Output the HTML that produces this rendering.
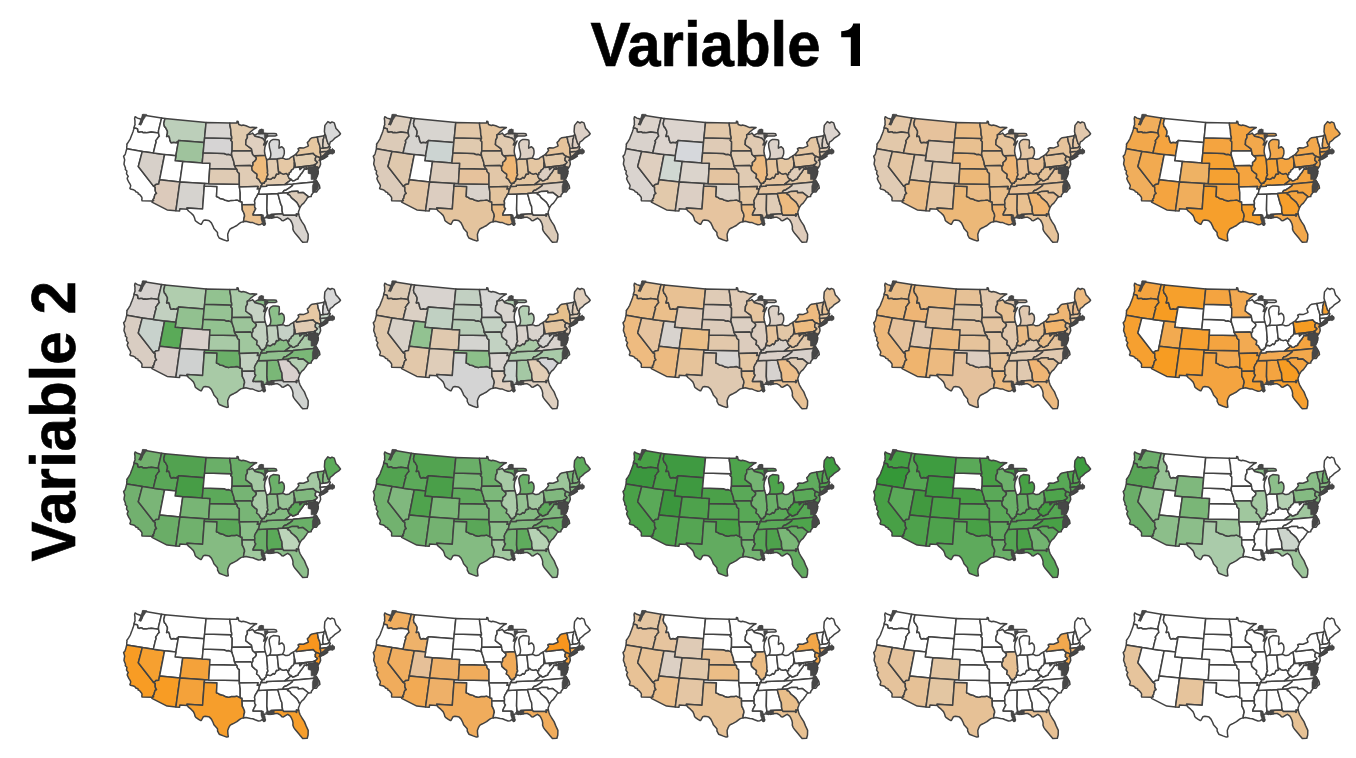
<!DOCTYPE html>
<html><head><meta charset="utf-8"><style>
html,body{margin:0;padding:0;background:#fff;width:1356px;height:758px;overflow:hidden;position:relative}
.t{position:absolute;font-family:"Liberation Sans",sans-serif;font-weight:bold;color:#000;white-space:nowrap;line-height:1;font-size:60px;-webkit-text-stroke:0.6px #000;transform-origin:0 0}
#t1{left:590.5px;top:13px;transform:scaleY(1.055)}
#t1b{left:836px;top:12px;transform:scaleY(1.03)}
#t2{left:0;top:0;transform:translate(22px,561.5px) rotate(-90deg) scaleY(1.055)}
#t2b{left:0;top:0;transform:translate(22px,314.5px) rotate(-90deg) scaleY(1.055)}
</style></head><body>
<svg width="1356" height="758" viewBox="0 0 1356 758" style="position:absolute;left:0;top:0"><defs><path id="WA" d="M142.5,114.9 L161.6,118.1 L158.5,130.9 L158.5,133.0 L151.2,132.0 L149.8,132.2 L148.5,132.4 L146.6,132.7 L144.8,132.6 L143.0,132.7 L142.0,131.9 L140.5,131.9 L139.0,132.2 L137.8,131.7 L137.7,130.4 L137.5,129.0 L136.1,128.3 L134.6,128.1 L134.1,127.7 L134.0,127.4 L134.5,125.9 L135.1,124.5 L134.9,123.4 L135.0,120.8 L134.6,118.6 L135.1,116.7 L137.5,118.1 L139.7,118.8 L141.2,119.4 L141.2,120.9 L140.1,122.8 L139.1,124.4 L141.0,123.5 L141.8,122.1 L142.5,120.1 L142.5,118.3 L143.0,116.3Z"/><path id="OR" d="M158.5,133.0 L151.2,132.0 L149.8,132.2 L148.5,132.4 L146.6,132.7 L144.8,132.6 L143.0,132.7 L142.0,131.9 L140.5,131.9 L139.0,132.2 L137.8,131.7 L137.7,130.4 L137.5,129.0 L136.1,128.3 L134.6,128.1 L134.1,127.7 L133.7,129.4 L133.1,131.4 L132.1,134.1 L131.4,135.7 L130.3,138.8 L129.8,139.7 L128.6,141.6 L128.0,142.5 L126.8,144.2 L127.0,145.0 L126.7,147.1 L126.8,148.7 L142.3,151.4 L153.4,153.0 L155.5,144.0 L156.0,142.9 L156.2,141.8 L155.6,140.9 L157.2,138.9 L157.5,138.2 L158.3,137.2 L159.4,136.0 L159.1,135.2Z"/><path id="CA" d="M126.8,148.7 L142.3,151.4 L138.3,166.5 L153.5,186.1 L155.2,187.1 L155.2,190.4 L155.6,191.8 L156.6,193.4 L155.1,194.3 L154.3,196.8 L154.1,198.3 L153.0,199.5 L153.7,200.6 L152.5,201.1 L142.1,200.8 L141.8,199.8 L142.0,198.3 L141.8,197.2 L140.7,195.8 L139.4,194.2 L138.2,193.9 L138.0,192.6 L135.8,191.8 L135.1,190.7 L133.6,189.8 L130.5,189.1 L129.9,188.3 L130.5,186.7 L130.7,185.5 L130.1,184.2 L128.8,182.2 L127.2,178.8 L127.6,177.3 L128.3,176.4 L127.6,175.4 L126.5,173.9 L126.9,171.0 L125.3,169.5 L125.5,168.0 L124.0,164.3 L124.2,162.4 L124.7,159.9 L123.6,156.3 L125.0,154.7 L125.5,153.4 L126.4,149.9Z"/><path id="NV" d="M142.3,151.4 L153.4,153.0 L164.6,154.5 L159.6,179.8 L158.7,184.1 L157.3,184.2 L155.8,184.4 L155.2,185.2 L154.2,185.6 L153.5,186.1 L138.3,166.5Z"/><path id="ID" d="M161.6,118.1 L164.9,118.6 L163.8,123.6 L164.4,126.4 L165.6,127.6 L166.5,129.3 L167.4,131.0 L167.4,133.2 L166.6,136.4 L168.7,135.9 L169.6,138.1 L169.8,139.9 L170.9,142.6 L171.6,142.8 L173.6,142.3 L176.5,142.7 L177.1,141.7 L178.1,143.1 L175.9,155.7 L164.6,154.5 L153.4,153.0 L155.5,144.0 L156.0,142.9 L156.2,141.8 L155.6,140.9 L157.2,138.9 L157.5,138.2 L158.3,137.2 L159.4,136.0 L159.1,135.2 L158.5,133.0 L158.5,130.9Z"/><path id="MT" d="M164.9,118.6 L206.1,122.4 L204.6,137.8 L204.1,142.6 L178.5,140.6 L178.1,143.1 L177.1,141.7 L176.5,142.7 L173.6,142.3 L171.6,142.8 L170.9,142.6 L169.8,139.9 L169.6,138.1 L168.7,135.9 L166.6,136.4 L167.4,133.2 L167.4,131.0 L166.5,129.3 L165.6,127.6 L164.4,126.4 L163.8,123.6Z"/><path id="WY" d="M178.1,143.1 L178.5,140.6 L204.1,142.6 L203.2,152.7 L202.2,162.9 L182.8,161.5 L175.1,160.8 L175.9,155.7Z"/><path id="UT" d="M164.6,154.5 L175.9,155.7 L175.1,160.8 L182.8,161.5 L179.9,181.9 L159.6,179.8Z"/><path id="CO" d="M182.8,161.5 L202.2,162.9 L210.0,163.3 L209.7,168.4 L208.7,183.7 L204.7,183.5 L179.9,181.9Z"/><path id="AZ" d="M159.6,179.8 L179.9,181.9 L175.9,210.7 L167.1,209.9 L151.9,202.2 L152.5,201.1 L153.7,200.6 L153.0,199.5 L154.1,198.3 L154.3,196.8 L155.1,194.3 L156.6,193.4 L155.6,191.8 L155.2,190.4 L155.2,187.1 L153.5,186.1 L154.2,185.6 L155.2,185.2 L155.8,184.4 L157.3,184.2 L158.7,184.1Z"/><path id="NM" d="M179.9,181.9 L204.7,183.5 L204.3,186.1 L202.6,209.0 L187.0,208.1 L187.2,209.2 L179.9,208.7 L179.6,211.0 L175.9,210.7Z"/><path id="TX" d="M187.2,209.2 L187.0,208.1 L202.6,209.0 L204.3,186.1 L217.0,186.6 L216.5,196.5 L218.6,197.4 L219.9,198.4 L222.9,199.0 L225.4,200.3 L228.6,201.1 L231.0,200.4 L234.9,200.3 L237.0,199.9 L240.2,201.5 L242.1,202.0 L242.1,204.7 L242.3,209.9 L243.4,212.0 L244.3,214.0 L244.6,216.0 L243.9,218.6 L243.5,221.7 L240.9,222.4 L239.1,223.7 L236.9,225.5 L233.7,227.2 L231.9,228.0 L230.0,229.2 L228.9,231.1 L227.7,234.3 L227.9,237.8 L228.3,240.5 L226.7,240.9 L223.4,239.7 L219.2,238.0 L217.6,235.0 L217.5,232.5 L213.9,228.6 L213.1,226.3 L211.4,222.9 L209.2,220.7 L208.5,220.5 L205.2,220.0 L203.4,220.5 L201.3,224.3 L200.4,224.2 L198.6,223.1 L195.8,221.1 L195.2,220.4 L194.5,217.8 L193.4,215.4 L191.0,213.0 L188.5,211.0Z"/><path id="OK" d="M204.7,183.5 L208.7,183.7 L239.3,184.3 L239.4,186.9 L240.2,192.5 L240.2,201.5 L237.0,199.9 L234.9,200.3 L231.0,200.4 L228.6,201.1 L225.4,200.3 L222.9,199.0 L219.9,198.4 L218.6,197.4 L216.5,196.5 L217.0,186.6 L204.3,186.1Z"/><path id="KS" d="M209.7,168.4 L236.4,168.9 L237.2,169.7 L237.2,171.2 L238.0,172.4 L239.3,173.4 L239.3,184.3 L208.7,183.7Z"/><path id="NE" d="M203.2,152.7 L224.2,153.5 L226.5,154.5 L228.4,154.3 L230.2,154.9 L231.1,155.3 L232.0,156.1 L232.4,157.6 L233.5,160.7 L234.0,162.4 L234.2,164.3 L234.6,165.8 L235.4,167.4 L236.4,168.9 L209.7,168.4 L210.0,163.3 L202.2,162.9Z"/><path id="SD" d="M204.6,137.8 L231.8,138.6 L230.8,140.3 L232.2,141.8 L232.1,151.0 L231.5,153.5 L232.0,156.1 L231.1,155.3 L230.2,154.9 L228.4,154.3 L226.5,154.5 L224.2,153.5 L203.2,152.7 L204.1,142.6Z"/><path id="ND" d="M206.1,122.4 L229.8,123.1 L230.0,125.6 L230.8,129.7 L231.0,133.2 L231.1,135.1 L231.7,136.7 L231.8,138.6 L204.6,137.8Z"/><path id="MN" d="M229.8,123.1 L237.0,123.1 L237.0,121.2 L238.1,121.5 L238.8,124.5 L241.7,125.5 L243.1,125.0 L246.0,125.7 L250.3,127.6 L252.4,127.3 L256.7,127.6 L254.1,129.0 L250.1,132.2 L248.0,134.4 L247.3,134.7 L247.4,137.7 L246.0,140.2 L245.9,142.7 L245.7,144.5 L247.6,146.0 L249.2,147.2 L251.5,148.9 L251.9,150.7 L232.1,151.0 L232.2,141.8 L230.8,140.3 L231.8,138.6 L231.7,136.7 L231.1,135.1 L231.0,133.2 L230.8,129.7 L230.0,125.6Z"/><path id="IA" d="M232.1,151.0 L251.9,150.7 L252.2,152.5 L252.7,154.5 L254.3,155.8 L256.3,157.7 L256.2,159.3 L255.1,160.8 L253.0,162.5 L253.0,165.0 L251.8,166.8 L250.5,165.6 L234.6,165.8 L234.2,164.3 L234.0,162.4 L233.5,160.7 L232.4,157.6 L232.0,156.1 L231.5,153.5Z"/><path id="MO" d="M234.6,165.8 L250.5,165.6 L251.8,166.8 L252.0,169.0 L252.2,170.2 L254.9,172.7 L257.0,174.2 L257.1,175.6 L256.6,177.8 L258.8,179.3 L260.4,182.2 L262.0,183.8 L262.0,184.8 L260.7,186.4 L260.6,187.5 L260.0,189.0 L257.2,189.1 L258.0,186.5 L239.4,186.9 L239.3,184.3 L239.3,173.4 L238.0,172.4 L237.2,171.2 L237.2,169.7 L236.4,168.9 L235.4,167.4Z"/><path id="AR" d="M239.4,186.9 L258.0,186.5 L257.2,189.1 L260.0,189.0 L259.3,190.3 L259.1,191.9 L258.7,193.5 L257.8,194.3 L256.9,196.3 L255.5,198.4 L254.5,201.0 L254.9,203.1 L254.7,204.6 L242.1,204.7 L242.1,202.0 L240.2,201.5 L240.2,192.5Z"/><path id="LA" d="M242.1,204.7 L254.7,204.6 L254.7,207.2 L255.8,208.7 L254.0,212.1 L253.2,213.9 L253.1,214.9 L261.6,214.7 L262.4,217.3 L262.5,218.9 L262.1,219.6 L263.5,220.3 L264.1,221.8 L265.4,223.8 L263.9,225.3 L262.2,223.4 L260.6,224.5 L258.4,224.8 L255.1,223.6 L252.8,222.6 L250.5,222.4 L245.9,221.3 L243.5,221.7 L243.9,218.6 L244.6,216.0 L244.3,214.0 L243.4,212.0 L242.3,209.9Z"/><path id="MS" d="M257.8,194.3 L266.7,193.9 L267.2,194.4 L266.9,209.9 L267.8,217.6 L265.6,217.7 L263.6,218.2 L262.5,218.9 L262.4,217.3 L261.6,214.7 L253.1,214.9 L253.2,213.9 L254.0,212.1 L255.8,208.7 L254.7,207.2 L254.7,204.6 L254.9,203.1 L254.5,201.0 L255.5,198.4 L256.9,196.3Z"/><path id="AL" d="M277.8,193.4 L266.7,193.9 L267.2,194.4 L266.9,209.9 L267.8,217.6 L269.2,218.3 L269.5,216.5 L271.0,218.2 L271.9,217.9 L271.1,214.4 L282.7,213.8 L282.1,210.7 L282.1,208.7 L281.9,206.3 L280.8,204.2Z"/><path id="TN" d="M284.8,184.6 L266.6,185.3 L266.6,186.2 L260.7,186.4 L260.6,187.5 L260.0,189.0 L259.3,190.3 L259.1,191.9 L258.7,193.5 L257.8,194.3 L266.7,193.9 L277.8,193.4 L283.2,193.0 L283.1,192.0 L284.2,190.4 L286.3,189.9 L287.8,188.8 L289.8,187.6 L292.4,185.6 L293.1,184.0Z"/><path id="KY" d="M284.8,184.6 L266.6,185.3 L266.6,186.2 L260.7,186.4 L262.0,184.8 L262.0,183.8 L262.7,183.0 L264.2,183.2 L264.5,181.8 L265.8,181.2 L265.9,180.5 L266.2,179.5 L266.7,179.0 L268.1,178.7 L270.0,179.4 L271.5,178.7 L273.1,177.3 L274.4,178.0 L275.3,176.6 L276.4,174.1 L277.3,174.3 L278.9,173.7 L278.6,172.0 L279.9,172.0 L281.3,173.4 L283.6,174.1 L286.2,173.4 L287.8,174.6 L288.0,174.9 L288.2,176.2 L289.3,178.5 L291.2,179.2 L290.0,180.5 L289.3,181.1 L286.6,183.2Z"/><path id="IL" d="M254.3,155.8 L265.2,155.3 L266.2,158.6 L266.6,159.3 L267.6,171.4 L267.4,172.7 L268.0,174.8 L267.1,176.3 L266.5,178.4 L266.2,179.5 L265.9,180.5 L265.8,181.2 L264.5,181.8 L264.2,183.2 L262.7,183.0 L262.0,183.8 L260.4,182.2 L258.8,179.3 L256.6,177.8 L257.1,175.6 L257.0,174.2 L254.9,172.7 L252.2,170.2 L252.0,169.0 L251.8,166.8 L253.0,165.0 L253.0,162.5 L255.1,160.8 L256.2,159.3 L256.3,157.7Z"/><path id="IN" d="M266.6,159.3 L267.9,159.7 L269.3,158.9 L277.2,158.7 L278.6,172.0 L278.9,173.7 L277.3,174.3 L276.4,174.1 L275.3,176.6 L274.4,178.0 L273.1,177.3 L271.5,178.7 L270.0,179.4 L268.1,178.7 L266.7,179.0 L266.2,179.5 L266.5,178.4 L267.1,176.3 L268.0,174.8 L267.4,172.7 L267.6,171.4Z"/><path id="OH" d="M277.2,158.7 L282.4,158.1 L284.2,158.6 L285.5,159.3 L287.0,159.2 L289.3,158.7 L290.8,157.3 L293.5,155.8 L294.6,162.7 L294.3,162.8 L294.4,164.7 L294.3,166.5 L294.0,167.9 L292.9,169.4 L291.5,170.1 L291.0,171.8 L289.3,172.8 L289.2,174.6 L288.0,174.9 L287.8,174.6 L286.2,173.4 L283.6,174.1 L281.3,173.4 L279.9,172.0 L278.6,172.0Z"/><path id="MI" d="M269.3,158.9 L270.4,157.1 L270.8,155.0 L270.8,153.4 L270.4,151.2 L269.5,147.6 L269.1,143.5 L270.1,141.6 L270.9,140.6 L273.2,139.4 L275.4,139.5 L278.0,139.8 L279.2,140.2 L279.4,143.5 L279.0,146.1 L279.0,148.2 L280.4,147.3 L281.9,146.7 L283.8,148.6 L284.3,150.9 L284.3,153.4 L283.9,155.0 L283.3,156.4 L282.4,158.1 L277.2,158.7Z"/><path id="MIU" d="M264.9,142.0 L264.0,140.0 L262.8,138.5 L260.5,137.6 L259.0,137.2 L255.0,136.3 L254.1,135.0 L255.6,134.6 L258.1,133.4 L260.5,132.5 L260.7,130.0 L261.8,129.4 L262.6,130.9 L262.6,133.4 L264.6,133.3 L267.1,133.4 L270.4,133.4 L274.0,133.4 L276.2,133.8 L276.8,135.3 L275.4,135.9 L272.1,135.9 L268.4,136.1 L265.8,136.8 L265.4,139.4Z"/><path id="WI" d="M265.2,155.3 L264.6,152.5 L264.5,150.7 L264.9,147.1 L265.4,145.5 L266.5,142.9 L267.4,140.9 L265.7,143.2 L264.4,144.5 L263.6,145.0 L264.1,143.5 L264.9,142.0 L264.0,140.0 L262.8,138.5 L260.5,137.6 L259.0,137.2 L255.0,136.3 L254.1,135.0 L252.5,133.1 L251.9,133.6 L249.8,134.2 L248.0,134.4 L247.3,134.7 L247.4,137.7 L246.0,140.2 L245.9,142.7 L245.7,144.5 L247.6,146.0 L249.2,147.2 L251.5,148.9 L251.9,150.7 L252.2,152.5 L252.7,154.5 L254.3,155.8Z"/><path id="PA" d="M293.5,155.8 L294.9,154.8 L296.1,154.0 L296.4,155.4 L313.2,153.3 L313.5,153.6 L314.8,155.2 L316.4,156.3 L316.0,157.2 L315.3,158.3 L315.4,159.1 L315.3,160.4 L316.3,161.1 L317.5,162.3 L316.7,163.2 L316.2,163.8 L315.2,164.7 L314.6,164.6 L314.3,164.8 L314.0,165.3 L299.4,167.0 L295.3,167.4 L294.6,162.7Z"/><path id="NY" d="M316.4,156.3 L314.8,155.2 L313.5,153.6 L313.2,153.3 L296.4,155.4 L296.1,154.0 L298.9,150.4 L298.0,148.6 L299.9,147.8 L303.4,148.1 L307.0,146.6 L308.4,145.8 L307.3,142.6 L308.9,141.0 L310.3,138.8 L312.2,137.7 L317.3,136.9 L317.9,139.5 L318.3,142.0 L319.1,144.0 L319.3,144.1 L320.3,148.3 L320.2,152.1 L320.9,155.9 L321.3,156.4 L320.4,157.1 L320.8,157.5 L320.5,158.5 L322.7,157.7 L324.9,157.0 L325.9,156.0 L327.7,156.1 L325.5,157.6 L323.0,159.1 L320.4,159.8 L319.1,160.4 L319.8,159.3 L319.9,157.7Z"/><path id="NJ" d="M316.4,156.3 L319.9,157.7 L319.8,159.3 L319.1,160.4 L320.2,160.6 L320.4,162.4 L320.6,164.2 L319.7,166.5 L318.2,168.9 L318.1,167.7 L317.1,167.6 L315.4,166.5 L315.1,165.8 L315.2,164.7 L316.2,163.8 L316.7,163.2 L317.5,162.3 L316.3,161.1 L315.3,160.4 L315.4,159.1 L315.3,158.3 L316.0,157.2Z"/><path id="DE" d="M314.0,165.3 L314.3,164.8 L314.6,164.6 L315.2,164.7 L315.1,165.8 L315.5,167.0 L316.2,168.5 L317.8,169.6 L318.3,171.4 L315.7,171.7 L314.8,169.0Z"/><path id="MD" d="M299.4,167.0 L314.0,165.3 L314.8,169.0 L315.7,171.7 L318.3,171.4 L318.2,172.8 L318.0,173.7 L316.5,174.3 L315.5,174.4 L313.8,174.4 L311.1,173.4 L309.6,172.8 L309.2,172.1 L310.0,170.6 L309.0,169.7 L308.0,168.8 L306.8,168.3 L306.0,166.9 L304.5,166.7 L303.7,167.4 L302.2,167.3 L301.6,168.2 L299.9,169.7Z"/><path id="VAES" d="M318.0,173.7 L316.5,174.3 L315.5,174.4 L315.6,176.8 L316.1,178.6 L316.8,176.9 L317.6,175.0Z"/><path id="VA" d="M284.8,184.6 L293.1,184.0 L317.1,181.7 L316.4,180.2 L314.9,179.8 L314.2,178.6 L314.3,177.0 L314.1,174.9 L313.8,174.4 L311.1,173.4 L309.6,172.8 L309.2,172.1 L310.0,170.6 L309.0,169.7 L308.0,168.8 L306.8,168.3 L306.5,169.3 L304.9,168.7 L304.2,169.2 L303.7,170.1 L302.7,171.7 L301.6,173.2 L300.6,174.3 L299.6,176.0 L298.4,177.2 L298.0,178.8 L295.9,179.5 L294.6,180.4 L292.6,180.8 L291.2,179.2 L290.0,180.5 L289.3,181.1 L286.6,183.2Z"/><path id="WV" d="M294.6,162.7 L295.3,167.4 L299.4,167.0 L299.9,169.7 L301.6,168.2 L302.2,167.3 L303.7,167.4 L304.5,166.7 L306.0,166.9 L306.8,168.3 L306.5,169.3 L304.9,168.7 L304.2,169.2 L303.7,170.1 L302.7,171.7 L301.6,173.2 L300.6,174.3 L299.6,176.0 L298.4,177.2 L298.0,178.8 L295.9,179.5 L294.6,180.4 L292.6,180.8 L291.2,179.2 L289.3,178.5 L288.2,176.2 L288.0,174.9 L289.2,174.6 L289.3,172.8 L291.0,171.8 L291.5,170.1 L292.9,169.4 L294.0,167.9 L294.3,166.5 L294.4,164.7 L294.3,162.8Z"/><path id="NC" d="M293.1,184.0 L317.1,181.7 L319.4,185.3 L319.9,188.2 L318.2,189.5 L316.5,192.0 L314.3,191.8 L312.9,193.0 L311.3,195.3 L311.2,196.6 L308.6,196.8 L303.0,192.4 L298.2,192.8 L298.0,191.3 L296.9,191.2 L291.6,191.4 L288.3,192.7 L283.2,193.0 L283.1,192.0 L284.2,190.4 L286.3,189.9 L287.8,188.8 L289.8,187.6 L292.4,185.6Z"/><path id="SC" d="M288.3,192.7 L291.6,191.4 L296.9,191.2 L298.0,191.3 L298.2,192.8 L303.0,192.4 L308.6,196.8 L307.3,197.8 L306.3,199.7 L305.2,201.1 L303.8,203.1 L301.9,204.6 L300.8,206.2 L300.1,207.1 L299.1,206.9 L298.1,204.6 L296.7,202.4 L294.3,200.2 L293.2,199.3 L291.2,197.7 L289.8,195.4 L287.5,194.3Z"/><path id="GA" d="M283.2,193.0 L277.8,193.4 L280.8,204.2 L281.9,206.3 L282.1,208.7 L282.1,210.7 L282.7,213.8 L283.5,215.3 L295.5,215.2 L296.4,216.2 L296.9,215.7 L296.4,213.9 L298.7,214.2 L298.4,211.9 L299.3,209.5 L300.1,207.1 L299.1,206.9 L298.1,204.6 L296.7,202.4 L294.3,200.2 L293.2,199.3 L291.2,197.7 L289.8,195.4 L287.5,194.3 L288.3,192.7Z"/><path id="FL" d="M298.7,214.2 L296.4,213.9 L296.9,215.7 L296.4,216.2 L295.5,215.2 L283.5,215.3 L282.7,213.8 L271.1,214.4 L271.9,217.9 L273.2,217.6 L276.4,217.2 L277.7,217.3 L280.1,218.6 L281.9,220.6 L283.5,220.7 L286.3,219.0 L287.8,218.1 L290.3,220.0 L291.5,222.0 L292.4,224.0 L293.0,226.6 L292.9,229.1 L293.7,231.1 L295.4,233.6 L297.1,235.5 L299.2,238.0 L300.6,239.9 L302.7,242.3 L307.2,242.0 L308.1,238.8 L308.2,234.2 L306.1,229.7 L304.4,225.4 L302.0,221.8 L300.0,218.3 L299.2,216.0Z"/><path id="CT" d="M320.2,152.1 L326.7,151.2 L327.6,154.7 L327.4,154.8 L325.7,155.4 L323.4,155.7 L320.8,157.5 L320.4,157.1 L321.3,156.4 L320.9,155.9Z"/><path id="RI" d="M326.7,151.2 L328.3,150.9 L328.8,152.4 L329.9,153.4 L328.9,153.9 L327.4,154.8 L327.6,154.7Z"/><path id="MA" d="M320.2,152.1 L320.3,148.3 L323.3,148.0 L327.7,147.4 L328.6,146.4 L329.3,146.2 L330.4,147.2 L329.3,149.0 L331.1,150.8 L331.8,151.7 L333.8,151.3 L333.2,150.5 L332.7,150.0 L333.8,150.6 L334.1,151.8 L332.5,152.3 L331.6,153.0 L330.6,152.7 L329.9,153.4 L328.8,152.4 L328.3,150.9 L326.7,151.2Z"/><path id="VT" d="M317.3,136.9 L324.0,135.8 L324.0,137.4 L323.1,139.7 L323.2,141.2 L322.9,143.7 L322.8,145.8 L323.3,148.0 L320.3,148.3 L319.3,144.1 L319.1,144.0 L318.3,142.0 L317.9,139.5Z"/><path id="NH" d="M324.0,135.8 L325.1,134.0 L325.9,136.0 L326.3,138.1 L327.4,141.6 L328.0,143.6 L329.4,145.1 L329.3,146.2 L328.6,146.4 L327.7,147.4 L323.3,148.0 L322.8,145.8 L322.9,143.7 L323.2,141.2 L323.1,139.7 L324.0,137.4Z"/><path id="ME" d="M325.1,134.0 L324.4,131.8 L324.6,128.6 L324.9,125.4 L327.9,121.6 L330.3,123.0 L332.0,121.9 L334.3,122.9 L336.0,128.5 L337.7,130.1 L339.2,132.0 L340.5,133.7 L339.1,135.4 L337.5,136.5 L336.8,136.9 L334.9,138.1 L333.4,139.7 L331.8,141.1 L330.3,141.9 L329.6,144.4 L329.4,145.1 L328.0,143.6 L327.4,141.6 L326.3,138.1 L325.9,136.0Z"/><path id="dark" d="M142.8,114.2 L146.8,114.4 L145.5,116.8 L143,120.5 L141,125.3 L139.6,124.6 L140.5,120 L142,116ZM308.1,166.6 L318,166.6 L317.6,176.6 L316.2,177.2 L315.6,179.6 L311.1,179.6 L311.1,174 L308.1,173.4ZM313.6,180.2 L316.6,180.4 L318.9,184 L318.5,187.7 L316.6,190.2 L313.9,192.2 L312.4,192.2 L312.4,186 L313.4,183ZM328.2,149.8 L331.5,149.5 L332.4,148.3 L333.2,149.6 L334.5,150.2 L334.5,153 L332.5,154.2 L330,153.6 L328.2,152.5ZM327.3,150.8 L329.5,151.5 L327.5,154.5 L324,157.8 L322,160 L320.3,160 L320.3,158 L323.5,154.5ZM258.4,131 L259.6,129.4 L263.6,129.4 L263.6,134 L258.4,134.3ZM264.2,134.2 L268,134.2 L268,136.6 L266.4,138.5 L264.6,138.5ZM261,214.8 L263.3,214.8 L263.8,217 L265.2,220.5 L265.2,225.3 L263.5,225.3 L262,222 L261,219ZM265.6,216.6 L267.4,214.7 L274.2,214.7 L274.2,218.1 L267.4,218.1Z"/></defs><g stroke="#424242" stroke-width="1.5" stroke-linejoin="round"><g transform="translate(0,0)"><use href="#WA" fill="#ffffff"/><use href="#OR" fill="#ffffff"/><use href="#CA" fill="#ffffff"/><use href="#NV" fill="#d7d0c9"/><use href="#ID" fill="#ffffff"/><use href="#MT" fill="#bccfba"/><use href="#WY" fill="#9fc39d"/><use href="#UT" fill="#ffffff"/><use href="#CO" fill="#ffffff"/><use href="#AZ" fill="#dccabb"/><use href="#NM" fill="#d6d3cf"/><use href="#TX" fill="#ffffff"/><use href="#OK" fill="#ffffff"/><use href="#KS" fill="#dfcbb4"/><use href="#NE" fill="#d9cfc5"/><use href="#SD" fill="#d6d4d4"/><use href="#ND" fill="#d8d5d2"/><use href="#MN" fill="#e2cbae"/><use href="#IA" fill="#dfd0c0"/><use href="#MO" fill="#e0ccb5"/><use href="#AR" fill="#ffffff"/><use href="#LA" fill="#e9c08f"/><use href="#MS" fill="#ffffff"/><use href="#AL" fill="#ffffff"/><use href="#TN" fill="#ffffff"/><use href="#KY" fill="#e2cbb0"/><use href="#IL" fill="#eebb7c"/><use href="#IN" fill="#e2cbb0"/><use href="#OH" fill="#e5c8a5"/><use href="#MI" fill="#d9d9d9"/><use href="#MIU" fill="#d9d9d9"/><use href="#WI" fill="#dfcfbf"/><use href="#PA" fill="#e2cdb0"/><use href="#NY" fill="#e6c7a0"/><use href="#NJ" fill="#e0ccb5"/><use href="#DE" fill="#e0ccb5"/><use href="#MD" fill="#e0ccb5"/><use href="#VAES" fill="#ffffff"/><use href="#VA" fill="#ffffff"/><use href="#WV" fill="#ffffff"/><use href="#NC" fill="#ffffff"/><use href="#SC" fill="#dccbb8"/><use href="#GA" fill="#ffffff"/><use href="#FL" fill="#d9d4cf"/><use href="#CT" fill="#e0ccb5"/><use href="#RI" fill="#e0ccb5"/><use href="#MA" fill="#e0ccb5"/><use href="#VT" fill="#ddd0c3"/><use href="#NH" fill="#ddd0c3"/><use href="#ME" fill="#d9d9d9"/><use href="#dark" fill="#474747" stroke-width="0.6"/></g><g transform="translate(249.7,0)"><use href="#WA" fill="#dccdbd"/><use href="#OR" fill="#dccbb8"/><use href="#CA" fill="#dccbba"/><use href="#NV" fill="#dfc8ad"/><use href="#ID" fill="#d6d4d0"/><use href="#MT" fill="#d8d5d0"/><use href="#WY" fill="#ccd4d2"/><use href="#UT" fill="#ffffff"/><use href="#CO" fill="#dcccbc"/><use href="#AZ" fill="#e2c6a6"/><use href="#NM" fill="#dccdc0"/><use href="#TX" fill="#e4c49e"/><use href="#OK" fill="#d9d2cb"/><use href="#KS" fill="#e6c29c"/><use href="#NE" fill="#e2c7a8"/><use href="#SD" fill="#e0caaf"/><use href="#ND" fill="#e2c8aa"/><use href="#MN" fill="#e4c49e"/><use href="#IA" fill="#e0c8ab"/><use href="#MO" fill="#e2c7a8"/><use href="#AR" fill="#e4c49e"/><use href="#LA" fill="#eabc86"/><use href="#MS" fill="#ffffff"/><use href="#AL" fill="#ffffff"/><use href="#TN" fill="#e4c6a2"/><use href="#KY" fill="#e4c6a2"/><use href="#IL" fill="#eeb674"/><use href="#IN" fill="#e4c6a0"/><use href="#OH" fill="#e4c6a2"/><use href="#MI" fill="#dcd0c4"/><use href="#MIU" fill="#dcd0c4"/><use href="#WI" fill="#e0cab0"/><use href="#PA" fill="#e2c8a8"/><use href="#NY" fill="#e6c39a"/><use href="#NJ" fill="#e0cbb3"/><use href="#DE" fill="#e0cbb3"/><use href="#MD" fill="#e0cbb3"/><use href="#VAES" fill="#e2c8a8"/><use href="#VA" fill="#e2c8a8"/><use href="#WV" fill="#dccfc2"/><use href="#NC" fill="#dccfc2"/><use href="#SC" fill="#ffffff"/><use href="#GA" fill="#ffffff"/><use href="#FL" fill="#dccbb8"/><use href="#CT" fill="#e0cbb3"/><use href="#RI" fill="#e0cbb3"/><use href="#MA" fill="#e0cbb3"/><use href="#VT" fill="#ddcfc2"/><use href="#NH" fill="#ddcfc2"/><use href="#ME" fill="#dcd0c6"/><use href="#dark" fill="#474747" stroke-width="0.6"/></g><g transform="translate(499.4,0)"><use href="#WA" fill="#dbd2ca"/><use href="#OR" fill="#d9d2cc"/><use href="#CA" fill="#dad4cf"/><use href="#NV" fill="#dfcfbf"/><use href="#ID" fill="#dcd4ce"/><use href="#MT" fill="#dcd4ce"/><use href="#WY" fill="#d6d8dc"/><use href="#UT" fill="#d0d8d2"/><use href="#CO" fill="#dbd4cc"/><use href="#AZ" fill="#e2c9ab"/><use href="#NM" fill="#dccfc4"/><use href="#TX" fill="#e6c49f"/><use href="#OK" fill="#dcd2c6"/><use href="#KS" fill="#e4c4a0"/><use href="#NE" fill="#e0c8ac"/><use href="#SD" fill="#dfcbb6"/><use href="#ND" fill="#e2c8aa"/><use href="#MN" fill="#e4c6a2"/><use href="#IA" fill="#e1cbb1"/><use href="#MO" fill="#e0cbb3"/><use href="#AR" fill="#e4c6a2"/><use href="#LA" fill="#ecbc84"/><use href="#MS" fill="#e2cab0"/><use href="#AL" fill="#e0ccb6"/><use href="#TN" fill="#e6c49f"/><use href="#KY" fill="#e6c49f"/><use href="#IL" fill="#ecba80"/><use href="#IN" fill="#e6c49c"/><use href="#OH" fill="#e4c6a2"/><use href="#MI" fill="#dcd2ca"/><use href="#MIU" fill="#dcd2ca"/><use href="#WI" fill="#e0cab2"/><use href="#PA" fill="#e4c6a2"/><use href="#NY" fill="#e4c6a2"/><use href="#NJ" fill="#e0cbb3"/><use href="#DE" fill="#e0cbb3"/><use href="#MD" fill="#e0cbb3"/><use href="#VAES" fill="#e3c8a6"/><use href="#VA" fill="#e3c8a6"/><use href="#WV" fill="#e0cdb8"/><use href="#NC" fill="#ddd0c2"/><use href="#SC" fill="#e6c49f"/><use href="#GA" fill="#edbb80"/><use href="#FL" fill="#dfccbb"/><use href="#CT" fill="#e0cbb3"/><use href="#RI" fill="#e0cbb3"/><use href="#MA" fill="#e0cbb3"/><use href="#VT" fill="#dcd1c6"/><use href="#NH" fill="#dcd1c6"/><use href="#ME" fill="#dcd4ce"/><use href="#dark" fill="#474747" stroke-width="0.6"/></g><g transform="translate(750.1,0)"><use href="#WA" fill="#e4c8a8"/><use href="#OR" fill="#e2c8aa"/><use href="#CA" fill="#e0cbb4"/><use href="#NV" fill="#e4c6a4"/><use href="#ID" fill="#e4c4a0"/><use href="#MT" fill="#e6c29c"/><use href="#WY" fill="#e0cab2"/><use href="#UT" fill="#e0cab2"/><use href="#CO" fill="#e2caae"/><use href="#AZ" fill="#eabc86"/><use href="#NM" fill="#e4c6a4"/><use href="#TX" fill="#ecb878"/><use href="#OK" fill="#eabc86"/><use href="#KS" fill="#ecb878"/><use href="#NE" fill="#ecba80"/><use href="#SD" fill="#e8c090"/><use href="#ND" fill="#eabc86"/><use href="#MN" fill="#eabe8a"/><use href="#IA" fill="#e8c090"/><use href="#MO" fill="#e8c090"/><use href="#AR" fill="#eabe8a"/><use href="#LA" fill="#f0b470"/><use href="#MS" fill="#eabe8a"/><use href="#AL" fill="#e8c090"/><use href="#TN" fill="#e8c094"/><use href="#KY" fill="#e8c090"/><use href="#IL" fill="#eeb676"/><use href="#IN" fill="#e8c094"/><use href="#OH" fill="#e8c094"/><use href="#MI" fill="#e4c6a4"/><use href="#MIU" fill="#e4c6a4"/><use href="#WI" fill="#e6c49c"/><use href="#PA" fill="#e6c39a"/><use href="#NY" fill="#e6c39a"/><use href="#NJ" fill="#e4c6a1"/><use href="#DE" fill="#e4c6a1"/><use href="#MD" fill="#e4c6a1"/><use href="#VAES" fill="#e6c39a"/><use href="#VA" fill="#e6c39a"/><use href="#WV" fill="#e6c39a"/><use href="#NC" fill="#e6c39a"/><use href="#SC" fill="#e8c094"/><use href="#GA" fill="#f0b470"/><use href="#FL" fill="#e6c39a"/><use href="#CT" fill="#e4c6a1"/><use href="#RI" fill="#e4c6a1"/><use href="#MA" fill="#e4c6a1"/><use href="#VT" fill="#e4c6a4"/><use href="#NH" fill="#e4c6a4"/><use href="#ME" fill="#e2c8ac"/><use href="#dark" fill="#474747" stroke-width="0.6"/></g><g transform="translate(999.6,0)"><use href="#WA" fill="#f0ae5c"/><use href="#OR" fill="#f2a84c"/><use href="#CA" fill="#f0ae5c"/><use href="#NV" fill="#f2aa50"/><use href="#ID" fill="#f4a440"/><use href="#MT" fill="#ffffff"/><use href="#WY" fill="#ffffff"/><use href="#UT" fill="#ffffff"/><use href="#CO" fill="#eeb264"/><use href="#AZ" fill="#f4a440"/><use href="#NM" fill="#f0ae5c"/><use href="#TX" fill="#f69f2c"/><use href="#OK" fill="#f4a440"/><use href="#KS" fill="#f5a132"/><use href="#NE" fill="#f5a132"/><use href="#SD" fill="#f4a440"/><use href="#ND" fill="#ffffff"/><use href="#MN" fill="#f4a440"/><use href="#IA" fill="#ffffff"/><use href="#MO" fill="#f4a440"/><use href="#AR" fill="#ffffff"/><use href="#LA" fill="#f69f2c"/><use href="#MS" fill="#ffffff"/><use href="#AL" fill="#ffffff"/><use href="#TN" fill="#ffffff"/><use href="#KY" fill="#f5a236"/><use href="#IL" fill="#f5a132"/><use href="#IN" fill="#f5a236"/><use href="#OH" fill="#f4a440"/><use href="#MI" fill="#f2a84c"/><use href="#MIU" fill="#f2a84c"/><use href="#WI" fill="#f2a84c"/><use href="#PA" fill="#f2a84c"/><use href="#NY" fill="#f2a84c"/><use href="#NJ" fill="#f3a84c"/><use href="#DE" fill="#f3a84c"/><use href="#MD" fill="#f3a84c"/><use href="#VAES" fill="#f4a440"/><use href="#VA" fill="#f4a440"/><use href="#WV" fill="#ffffff"/><use href="#NC" fill="#f4a440"/><use href="#SC" fill="#f4a440"/><use href="#GA" fill="#f69f2c"/><use href="#FL" fill="#f2a84c"/><use href="#CT" fill="#f3a84c"/><use href="#RI" fill="#f3a84c"/><use href="#MA" fill="#f3a84c"/><use href="#VT" fill="#ffffff"/><use href="#NH" fill="#f0ae5c"/><use href="#ME" fill="#f2a84c"/><use href="#dark" fill="#474747" stroke-width="0.6"/></g><g transform="translate(0,166.5)"><use href="#WA" fill="#d6d2cf"/><use href="#OR" fill="#d6d0cc"/><use href="#CA" fill="#d9cdc2"/><use href="#NV" fill="#c8d2cc"/><use href="#ID" fill="#c2d0c0"/><use href="#MT" fill="#b0cdae"/><use href="#WY" fill="#92c190"/><use href="#UT" fill="#5aaa58"/><use href="#CO" fill="#d8cfcb"/><use href="#AZ" fill="#d8cec8"/><use href="#NM" fill="#cfd1d0"/><use href="#TX" fill="#a8caa6"/><use href="#OK" fill="#6aaf68"/><use href="#KS" fill="#a8caa6"/><use href="#NE" fill="#92c290"/><use href="#SD" fill="#96c394"/><use href="#ND" fill="#92c290"/><use href="#MN" fill="#aacba8"/><use href="#IA" fill="#9cc59a"/><use href="#MO" fill="#a0c79e"/><use href="#AR" fill="#c2d1c0"/><use href="#LA" fill="#cfd3d0"/><use href="#MS" fill="#a0c89e"/><use href="#AL" fill="#7ab777"/><use href="#TN" fill="#90c08e"/><use href="#KY" fill="#88bd86"/><use href="#IL" fill="#c2d1c0"/><use href="#IN" fill="#c0d0be"/><use href="#OH" fill="#c5d0c6"/><use href="#MI" fill="#8cbf8a"/><use href="#MIU" fill="#8cbf8a"/><use href="#WI" fill="#c6d2c4"/><use href="#PA" fill="#e0cbb3"/><use href="#NY" fill="#e6c8a4"/><use href="#NJ" fill="#c8d7c8"/><use href="#DE" fill="#c8d7c8"/><use href="#MD" fill="#c8d7c8"/><use href="#VAES" fill="#aacba8"/><use href="#VA" fill="#aacba8"/><use href="#WV" fill="#a8caa6"/><use href="#NC" fill="#7ab777"/><use href="#SC" fill="#b4cfb2"/><use href="#GA" fill="#d9d0cd"/><use href="#FL" fill="#d0d3d0"/><use href="#CT" fill="#c8d7c8"/><use href="#RI" fill="#c8d7c8"/><use href="#MA" fill="#c8d7c8"/><use href="#VT" fill="#ffffff"/><use href="#NH" fill="#d5d5d5"/><use href="#ME" fill="#d8d8d8"/><use href="#dark" fill="#474747" stroke-width="0.6"/></g><g transform="translate(249.7,166.5)"><use href="#WA" fill="#dccab4"/><use href="#OR" fill="#dfc7ab"/><use href="#CA" fill="#e0c8ab"/><use href="#NV" fill="#d8d1c8"/><use href="#ID" fill="#dbd0c4"/><use href="#MT" fill="#d8d3cf"/><use href="#WY" fill="#c0d0c2"/><use href="#UT" fill="#92c291"/><use href="#CO" fill="#e0c9af"/><use href="#AZ" fill="#e2c8aa"/><use href="#NM" fill="#dfcdb9"/><use href="#TX" fill="#d4d4d4"/><use href="#OK" fill="#8cbf8a"/><use href="#KS" fill="#d4d4d0"/><use href="#NE" fill="#b8cdb8"/><use href="#SD" fill="#c0cfc0"/><use href="#ND" fill="#c2d0c2"/><use href="#MN" fill="#d6d6d4"/><use href="#IA" fill="#c4d2c4"/><use href="#MO" fill="#c2d2c2"/><use href="#AR" fill="#d8d4d0"/><use href="#LA" fill="#dfcfbf"/><use href="#MS" fill="#cdd4cf"/><use href="#AL" fill="#a4c8a4"/><use href="#TN" fill="#a8caa8"/><use href="#KY" fill="#a8caa6"/><use href="#IL" fill="#d6d4d0"/><use href="#IN" fill="#d9d2cb"/><use href="#OH" fill="#d8d2cc"/><use href="#MI" fill="#b4cfb4"/><use href="#MIU" fill="#b4cfb4"/><use href="#WI" fill="#d8d4cf"/><use href="#PA" fill="#e2c49e"/><use href="#NY" fill="#e6c08c"/><use href="#NJ" fill="#dfcdb9"/><use href="#DE" fill="#dfcdb9"/><use href="#MD" fill="#dfcdb9"/><use href="#VAES" fill="#d8d2cd"/><use href="#VA" fill="#d8d2cd"/><use href="#WV" fill="#d6d4d0"/><use href="#NC" fill="#a8caa8"/><use href="#SC" fill="#d4d4d6"/><use href="#GA" fill="#e2cdb5"/><use href="#FL" fill="#dfd0c0"/><use href="#CT" fill="#dfcdb9"/><use href="#RI" fill="#dfcdb9"/><use href="#MA" fill="#dfcdb9"/><use href="#VT" fill="#dcd0c4"/><use href="#NH" fill="#e2cdb8"/><use href="#ME" fill="#e0cfbd"/><use href="#dark" fill="#474747" stroke-width="0.6"/></g><g transform="translate(499.4,166.5)"><use href="#WA" fill="#e8c396"/><use href="#OR" fill="#ebbd86"/><use href="#CA" fill="#eebb80"/><use href="#NV" fill="#e6c49f"/><use href="#ID" fill="#eabf8b"/><use href="#MT" fill="#e8c193"/><use href="#WY" fill="#dfcbb8"/><use href="#UT" fill="#d8d3ce"/><use href="#CO" fill="#ebbf88"/><use href="#AZ" fill="#ecba80"/><use href="#NM" fill="#e6c39a"/><use href="#TX" fill="#dfc9b1"/><use href="#OK" fill="#d6d4d2"/><use href="#KS" fill="#e2c8ab"/><use href="#NE" fill="#dccbba"/><use href="#SD" fill="#dccdc0"/><use href="#ND" fill="#dfcbb6"/><use href="#MN" fill="#e0cbb6"/><use href="#IA" fill="#dccfc2"/><use href="#MO" fill="#dcccbd"/><use href="#AR" fill="#e4c6a2"/><use href="#LA" fill="#e8c294"/><use href="#MS" fill="#dccfc2"/><use href="#AL" fill="#d6d2cf"/><use href="#TN" fill="#dad0c8"/><use href="#KY" fill="#d8d0c8"/><use href="#IL" fill="#dccdbf"/><use href="#IN" fill="#e6c49c"/><use href="#OH" fill="#e2c7a6"/><use href="#MI" fill="#dcd0c5"/><use href="#MIU" fill="#dcd0c5"/><use href="#WI" fill="#e6c59f"/><use href="#PA" fill="#edbb80"/><use href="#NY" fill="#eebb80"/><use href="#NJ" fill="#e4c7a3"/><use href="#DE" fill="#e4c7a3"/><use href="#MD" fill="#e4c7a3"/><use href="#VAES" fill="#e2c9ab"/><use href="#VA" fill="#e2c9ab"/><use href="#WV" fill="#e6c59f"/><use href="#NC" fill="#d8d1cb"/><use href="#SC" fill="#e0cbb2"/><use href="#GA" fill="#ecbd88"/><use href="#FL" fill="#e8c296"/><use href="#CT" fill="#e4c7a3"/><use href="#RI" fill="#e4c7a3"/><use href="#MA" fill="#e4c7a3"/><use href="#VT" fill="#e4c6a2"/><use href="#NH" fill="#e8c294"/><use href="#ME" fill="#e6c49c"/><use href="#dark" fill="#474747" stroke-width="0.6"/></g><g transform="translate(750.1,166.5)"><use href="#WA" fill="#e9bd88"/><use href="#OR" fill="#ecb87a"/><use href="#CA" fill="#eeb87a"/><use href="#NV" fill="#e6c29c"/><use href="#ID" fill="#eeb575"/><use href="#MT" fill="#ebba80"/><use href="#WY" fill="#e4c29c"/><use href="#UT" fill="#e0c8b0"/><use href="#CO" fill="#ecba80"/><use href="#AZ" fill="#efb46e"/><use href="#NM" fill="#ecba80"/><use href="#TX" fill="#e4c19c"/><use href="#OK" fill="#dccdc0"/><use href="#KS" fill="#e6c39b"/><use href="#NE" fill="#e2c4a2"/><use href="#SD" fill="#e0c6a6"/><use href="#ND" fill="#e6c196"/><use href="#MN" fill="#e2c8ac"/><use href="#IA" fill="#e4c4a0"/><use href="#MO" fill="#e2c6a6"/><use href="#AR" fill="#e6c298"/><use href="#LA" fill="#ecba80"/><use href="#MS" fill="#e4c6a2"/><use href="#AL" fill="#e0c9b0"/><use href="#TN" fill="#e0c9b0"/><use href="#KY" fill="#e0c9b0"/><use href="#IL" fill="#e2c8ac"/><use href="#IN" fill="#ebbb84"/><use href="#OH" fill="#e8c091"/><use href="#MI" fill="#e0c8b0"/><use href="#MIU" fill="#e0c8b0"/><use href="#WI" fill="#e8c193"/><use href="#PA" fill="#f0b46c"/><use href="#NY" fill="#eeb674"/><use href="#NJ" fill="#e6c49c"/><use href="#DE" fill="#e6c49c"/><use href="#MD" fill="#e6c49c"/><use href="#VAES" fill="#e6c39b"/><use href="#VA" fill="#e6c39b"/><use href="#WV" fill="#eabd88"/><use href="#NC" fill="#e0c9b0"/><use href="#SC" fill="#e6c298"/><use href="#GA" fill="#efb574"/><use href="#FL" fill="#ecba80"/><use href="#CT" fill="#e6c49c"/><use href="#RI" fill="#e6c49c"/><use href="#MA" fill="#e6c49c"/><use href="#VT" fill="#e8c094"/><use href="#NH" fill="#eab98a"/><use href="#ME" fill="#ecba80"/><use href="#dark" fill="#474747" stroke-width="0.6"/></g><g transform="translate(999.6,166.5)"><use href="#WA" fill="#f4a440"/><use href="#OR" fill="#f6a030"/><use href="#CA" fill="#f6a030"/><use href="#NV" fill="#ffffff"/><use href="#ID" fill="#f79c22"/><use href="#MT" fill="#f6a02c"/><use href="#WY" fill="#ffffff"/><use href="#UT" fill="#f2aa50"/><use href="#CO" fill="#f6a030"/><use href="#AZ" fill="#f79c22"/><use href="#NM" fill="#f6a030"/><use href="#TX" fill="#f4a440"/><use href="#OK" fill="#f2aa52"/><use href="#KS" fill="#f4a440"/><use href="#NE" fill="#ffffff"/><use href="#SD" fill="#ffffff"/><use href="#ND" fill="#f4a440"/><use href="#MN" fill="#f2aa52"/><use href="#IA" fill="#ffffff"/><use href="#MO" fill="#f2aa52"/><use href="#AR" fill="#f6a030"/><use href="#LA" fill="#f6a030"/><use href="#MS" fill="#f4a440"/><use href="#AL" fill="#f4a440"/><use href="#TN" fill="#f2aa52"/><use href="#KY" fill="#ffffff"/><use href="#IL" fill="#ffffff"/><use href="#IN" fill="#ffffff"/><use href="#OH" fill="#ffffff"/><use href="#MI" fill="#ffffff"/><use href="#MIU" fill="#ffffff"/><use href="#WI" fill="#ffffff"/><use href="#PA" fill="#f79c22"/><use href="#NY" fill="#ffffff"/><use href="#NJ" fill="#f2a94f"/><use href="#DE" fill="#f2a94f"/><use href="#MD" fill="#f2a94f"/><use href="#VAES" fill="#f4a440"/><use href="#VA" fill="#f4a440"/><use href="#WV" fill="#ffffff"/><use href="#NC" fill="#f2a84c"/><use href="#SC" fill="#f4a440"/><use href="#GA" fill="#f79c22"/><use href="#FL" fill="#f6a030"/><use href="#CT" fill="#ffffff"/><use href="#RI" fill="#ffffff"/><use href="#MA" fill="#ffffff"/><use href="#VT" fill="#ffffff"/><use href="#NH" fill="#f6a030"/><use href="#ME" fill="#ffffff"/><use href="#dark" fill="#474747" stroke-width="0.6"/></g><g transform="translate(0,335.2)"><use href="#WA" fill="#72b06e"/><use href="#OR" fill="#55a453"/><use href="#CA" fill="#72b06f"/><use href="#NV" fill="#7ab577"/><use href="#ID" fill="#5aa758"/><use href="#MT" fill="#52a250"/><use href="#WY" fill="#479d46"/><use href="#UT" fill="#ffffff"/><use href="#CO" fill="#78b575"/><use href="#AZ" fill="#6aad67"/><use href="#NM" fill="#70b16d"/><use href="#TX" fill="#85bb82"/><use href="#OK" fill="#5aa758"/><use href="#KS" fill="#7ab777"/><use href="#NE" fill="#5ca95a"/><use href="#SD" fill="#ffffff"/><use href="#ND" fill="#6aaf68"/><use href="#MN" fill="#6aae68"/><use href="#IA" fill="#76b474"/><use href="#MO" fill="#78b576"/><use href="#AR" fill="#8abf88"/><use href="#LA" fill="#a0c99e"/><use href="#MS" fill="#6aaf68"/><use href="#AL" fill="#5aa958"/><use href="#TN" fill="#7cb87a"/><use href="#KY" fill="#84bb82"/><use href="#IL" fill="#a8caa6"/><use href="#IN" fill="#8dbe8b"/><use href="#OH" fill="#98c396"/><use href="#MI" fill="#6cb06a"/><use href="#MIU" fill="#6cb06a"/><use href="#WI" fill="#a4c9a2"/><use href="#PA" fill="#80b87e"/><use href="#NY" fill="#a4c8a2"/><use href="#NJ" fill="#ffffff"/><use href="#DE" fill="#84ba81"/><use href="#MD" fill="#84ba81"/><use href="#VAES" fill="#ffffff"/><use href="#VA" fill="#ffffff"/><use href="#WV" fill="#5ca85a"/><use href="#NC" fill="#6ab068"/><use href="#SC" fill="#82ba80"/><use href="#GA" fill="#bcd5ba"/><use href="#FL" fill="#8dbf8b"/><use href="#CT" fill="#ffffff"/><use href="#RI" fill="#ffffff"/><use href="#MA" fill="#ffffff"/><use href="#VT" fill="#7ab777"/><use href="#NH" fill="#8cbe8a"/><use href="#ME" fill="#5cab5a"/><use href="#dark" fill="#474747" stroke-width="0.6"/></g><g transform="translate(249.7,335.2)"><use href="#WA" fill="#6cb06a"/><use href="#OR" fill="#52a350"/><use href="#CA" fill="#72b26f"/><use href="#NV" fill="#80b87e"/><use href="#ID" fill="#5caa5a"/><use href="#MT" fill="#52a350"/><use href="#WY" fill="#4a9f49"/><use href="#UT" fill="#4fa34d"/><use href="#CO" fill="#7ab777"/><use href="#AZ" fill="#70b16d"/><use href="#NM" fill="#74b271"/><use href="#TX" fill="#84bb82"/><use href="#OK" fill="#5aa758"/><use href="#KS" fill="#78b576"/><use href="#NE" fill="#60ab5e"/><use href="#SD" fill="#78b676"/><use href="#ND" fill="#6aaf68"/><use href="#MN" fill="#6cb06a"/><use href="#IA" fill="#7cb87a"/><use href="#MO" fill="#7cb87a"/><use href="#AR" fill="#8cc08a"/><use href="#LA" fill="#a2c9a0"/><use href="#MS" fill="#74b472"/><use href="#AL" fill="#5fab5d"/><use href="#TN" fill="#80b87e"/><use href="#KY" fill="#84bb82"/><use href="#IL" fill="#aacba8"/><use href="#IN" fill="#94c292"/><use href="#OH" fill="#a2c7a0"/><use href="#MI" fill="#6cb06a"/><use href="#MIU" fill="#6cb06a"/><use href="#WI" fill="#a6caa4"/><use href="#PA" fill="#80b87e"/><use href="#NY" fill="#9cc59a"/><use href="#NJ" fill="#84ba81"/><use href="#DE" fill="#84ba81"/><use href="#MD" fill="#84ba81"/><use href="#VAES" fill="#80b87e"/><use href="#VA" fill="#80b87e"/><use href="#WV" fill="#5ea95c"/><use href="#NC" fill="#6ab068"/><use href="#SC" fill="#84bb82"/><use href="#GA" fill="#b6d2b4"/><use href="#FL" fill="#90c18e"/><use href="#CT" fill="#84ba81"/><use href="#RI" fill="#84ba81"/><use href="#MA" fill="#80b87e"/><use href="#VT" fill="#74b472"/><use href="#NH" fill="#80b87e"/><use href="#ME" fill="#5eab5c"/><use href="#dark" fill="#474747" stroke-width="0.6"/></g><g transform="translate(499.4,335.2)"><use href="#WA" fill="#48a046"/><use href="#OR" fill="#3b973e"/><use href="#CA" fill="#4aa148"/><use href="#NV" fill="#5aa958"/><use href="#ID" fill="#48a046"/><use href="#MT" fill="#3f9a41"/><use href="#WY" fill="#3e9940"/><use href="#UT" fill="#3b963d"/><use href="#CO" fill="#4ea24c"/><use href="#AZ" fill="#4ea24c"/><use href="#NM" fill="#55a553"/><use href="#TX" fill="#62ab60"/><use href="#OK" fill="#48a046"/><use href="#KS" fill="#55a553"/><use href="#NE" fill="#4ba049"/><use href="#SD" fill="#ffffff"/><use href="#ND" fill="#ffffff"/><use href="#MN" fill="#4ea44c"/><use href="#IA" fill="#5aa958"/><use href="#MO" fill="#58a856"/><use href="#AR" fill="#66ad64"/><use href="#LA" fill="#74b472"/><use href="#MS" fill="#58a856"/><use href="#AL" fill="#4ea24c"/><use href="#TN" fill="#5aa958"/><use href="#KY" fill="#5aa958"/><use href="#IL" fill="#70b26e"/><use href="#IN" fill="#6ab068"/><use href="#OH" fill="#6eb06c"/><use href="#MI" fill="#4ea44c"/><use href="#MIU" fill="#4ea44c"/><use href="#WI" fill="#74b472"/><use href="#PA" fill="#5aa958"/><use href="#NY" fill="#60ab5e"/><use href="#NJ" fill="#58a455"/><use href="#DE" fill="#58a455"/><use href="#MD" fill="#58a455"/><use href="#VAES" fill="#58a856"/><use href="#VA" fill="#58a856"/><use href="#WV" fill="#45a043"/><use href="#NC" fill="#4ea44c"/><use href="#SC" fill="#64ac62"/><use href="#GA" fill="#7ab777"/><use href="#FL" fill="#62ab60"/><use href="#CT" fill="#58a455"/><use href="#RI" fill="#58a455"/><use href="#MA" fill="#4ea44c"/><use href="#VT" fill="#4ea44c"/><use href="#NH" fill="#5aa958"/><use href="#ME" fill="#3f9c41"/><use href="#dark" fill="#474747" stroke-width="0.6"/></g><g transform="translate(750.1,335.2)"><use href="#WA" fill="#44a044"/><use href="#OR" fill="#359838"/><use href="#CA" fill="#48a046"/><use href="#NV" fill="#5aa958"/><use href="#ID" fill="#55a753"/><use href="#MT" fill="#3e9c40"/><use href="#WY" fill="#3c993e"/><use href="#UT" fill="#41993f"/><use href="#CO" fill="#48a046"/><use href="#AZ" fill="#4ea24c"/><use href="#NM" fill="#4ea24c"/><use href="#TX" fill="#5eaa5c"/><use href="#OK" fill="#48a046"/><use href="#KS" fill="#58a856"/><use href="#NE" fill="#48a046"/><use href="#SD" fill="#ffffff"/><use href="#ND" fill="#5aa958"/><use href="#MN" fill="#48a046"/><use href="#IA" fill="#5aa958"/><use href="#MO" fill="#5aa958"/><use href="#AR" fill="#60ab5e"/><use href="#LA" fill="#6aaf68"/><use href="#MS" fill="#55a653"/><use href="#AL" fill="#4aa148"/><use href="#TN" fill="#5aa958"/><use href="#KY" fill="#55a653"/><use href="#IL" fill="#6ab068"/><use href="#IN" fill="#66ad64"/><use href="#OH" fill="#6cb06a"/><use href="#MI" fill="#48a046"/><use href="#MIU" fill="#48a046"/><use href="#WI" fill="#6cb06a"/><use href="#PA" fill="#4ea44c"/><use href="#NY" fill="#58a856"/><use href="#NJ" fill="#58a455"/><use href="#DE" fill="#58a455"/><use href="#MD" fill="#58a455"/><use href="#VAES" fill="#55a653"/><use href="#VA" fill="#55a653"/><use href="#WV" fill="#45a043"/><use href="#NC" fill="#48a046"/><use href="#SC" fill="#5eaa5c"/><use href="#GA" fill="#72b370"/><use href="#FL" fill="#58a856"/><use href="#CT" fill="#58a455"/><use href="#RI" fill="#58a455"/><use href="#MA" fill="#4ea44c"/><use href="#VT" fill="#4ea44c"/><use href="#NH" fill="#5aa958"/><use href="#ME" fill="#3e9c40"/><use href="#dark" fill="#474747" stroke-width="0.6"/></g><g transform="translate(999.6,335.2)"><use href="#WA" fill="#6cae6a"/><use href="#OR" fill="#58a456"/><use href="#CA" fill="#6aad68"/><use href="#NV" fill="#8fc08d"/><use href="#ID" fill="#96c294"/><use href="#MT" fill="#ffffff"/><use href="#WY" fill="#7fb87d"/><use href="#UT" fill="#ffffff"/><use href="#CO" fill="#7ab677"/><use href="#AZ" fill="#8cbe8a"/><use href="#NM" fill="#8cbe8a"/><use href="#TX" fill="#aacbaa"/><use href="#OK" fill="#9cc59a"/><use href="#KS" fill="#ffffff"/><use href="#NE" fill="#ffffff"/><use href="#SD" fill="#ffffff"/><use href="#ND" fill="#ffffff"/><use href="#MN" fill="#ffffff"/><use href="#IA" fill="#ffffff"/><use href="#MO" fill="#a0c79e"/><use href="#AR" fill="#ffffff"/><use href="#LA" fill="#ffffff"/><use href="#MS" fill="#ffffff"/><use href="#AL" fill="#ffffff"/><use href="#TN" fill="#ffffff"/><use href="#KY" fill="#ffffff"/><use href="#IL" fill="#a4c9a2"/><use href="#IN" fill="#ffffff"/><use href="#OH" fill="#b4d0b2"/><use href="#MI" fill="#8cbe8a"/><use href="#MIU" fill="#8cbe8a"/><use href="#WI" fill="#ffffff"/><use href="#PA" fill="#84bb82"/><use href="#NY" fill="#8abe88"/><use href="#NJ" fill="#84ba81"/><use href="#DE" fill="#84ba81"/><use href="#MD" fill="#84ba81"/><use href="#VAES" fill="#a0c79e"/><use href="#VA" fill="#a0c79e"/><use href="#WV" fill="#ffffff"/><use href="#NC" fill="#ffffff"/><use href="#SC" fill="#ffffff"/><use href="#GA" fill="#ccd5cc"/><use href="#FL" fill="#9dc69b"/><use href="#CT" fill="#84ba81"/><use href="#RI" fill="#84ba81"/><use href="#MA" fill="#84ba81"/><use href="#VT" fill="#84bb82"/><use href="#NH" fill="#6cb06a"/><use href="#ME" fill="#ffffff"/><use href="#dark" fill="#474747" stroke-width="0.6"/></g><g transform="translate(0,496.2)"><use href="#WA" fill="#ffffff"/><use href="#OR" fill="#ffffff"/><use href="#CA" fill="#f89c24"/><use href="#NV" fill="#f6a030"/><use href="#ID" fill="#ffffff"/><use href="#MT" fill="#ffffff"/><use href="#WY" fill="#ffffff"/><use href="#UT" fill="#ffffff"/><use href="#CO" fill="#f4a23a"/><use href="#AZ" fill="#f89c24"/><use href="#NM" fill="#f4a23a"/><use href="#TX" fill="#f69e2c"/><use href="#OK" fill="#ffffff"/><use href="#KS" fill="#ffffff"/><use href="#NE" fill="#ffffff"/><use href="#SD" fill="#ffffff"/><use href="#ND" fill="#ffffff"/><use href="#MN" fill="#ffffff"/><use href="#IA" fill="#ffffff"/><use href="#MO" fill="#ffffff"/><use href="#AR" fill="#ffffff"/><use href="#LA" fill="#ffffff"/><use href="#MS" fill="#ffffff"/><use href="#AL" fill="#ffffff"/><use href="#TN" fill="#ffffff"/><use href="#KY" fill="#ffffff"/><use href="#IL" fill="#ffffff"/><use href="#IN" fill="#ffffff"/><use href="#OH" fill="#ffffff"/><use href="#MI" fill="#ffffff"/><use href="#MIU" fill="#ffffff"/><use href="#WI" fill="#ffffff"/><use href="#PA" fill="#ffffff"/><use href="#NY" fill="#f8961e"/><use href="#NJ" fill="#f8961e"/><use href="#DE" fill="#ffffff"/><use href="#MD" fill="#ffffff"/><use href="#VAES" fill="#ffffff"/><use href="#VA" fill="#ffffff"/><use href="#WV" fill="#ffffff"/><use href="#NC" fill="#ffffff"/><use href="#SC" fill="#ffffff"/><use href="#GA" fill="#ffffff"/><use href="#FL" fill="#f69e2c"/><use href="#CT" fill="#f59e38"/><use href="#RI" fill="#ffffff"/><use href="#MA" fill="#ffffff"/><use href="#VT" fill="#ffffff"/><use href="#NH" fill="#ffffff"/><use href="#ME" fill="#ffffff"/><use href="#dark" fill="#474747" stroke-width="0.6"/></g><g transform="translate(249.7,496.2)"><use href="#WA" fill="#f0ae60"/><use href="#OR" fill="#ffffff"/><use href="#CA" fill="#f0ac5c"/><use href="#NV" fill="#f0ae60"/><use href="#ID" fill="#eeb26a"/><use href="#MT" fill="#ffffff"/><use href="#WY" fill="#ffffff"/><use href="#UT" fill="#e6c098"/><use href="#CO" fill="#eeb068"/><use href="#AZ" fill="#f2aa54"/><use href="#NM" fill="#eeb068"/><use href="#TX" fill="#f0ac5c"/><use href="#OK" fill="#ffffff"/><use href="#KS" fill="#f0ac5c"/><use href="#NE" fill="#ffffff"/><use href="#SD" fill="#ffffff"/><use href="#ND" fill="#ffffff"/><use href="#MN" fill="#ffffff"/><use href="#IA" fill="#ffffff"/><use href="#MO" fill="#ffffff"/><use href="#AR" fill="#ffffff"/><use href="#LA" fill="#ffffff"/><use href="#MS" fill="#ffffff"/><use href="#AL" fill="#ffffff"/><use href="#TN" fill="#ffffff"/><use href="#KY" fill="#ffffff"/><use href="#IL" fill="#f0aa58"/><use href="#IN" fill="#ffffff"/><use href="#OH" fill="#ffffff"/><use href="#MI" fill="#ffffff"/><use href="#MIU" fill="#ffffff"/><use href="#WI" fill="#ffffff"/><use href="#PA" fill="#ffffff"/><use href="#NY" fill="#f8961e"/><use href="#NJ" fill="#f5a23c"/><use href="#DE" fill="#ffffff"/><use href="#MD" fill="#ffffff"/><use href="#VAES" fill="#ffffff"/><use href="#VA" fill="#ffffff"/><use href="#WV" fill="#ffffff"/><use href="#NC" fill="#ffffff"/><use href="#SC" fill="#ffffff"/><use href="#GA" fill="#ffffff"/><use href="#FL" fill="#f0ac5c"/><use href="#CT" fill="#f3a84c"/><use href="#RI" fill="#ffffff"/><use href="#MA" fill="#ffffff"/><use href="#VT" fill="#ffffff"/><use href="#NH" fill="#ffffff"/><use href="#ME" fill="#ffffff"/><use href="#dark" fill="#474747" stroke-width="0.6"/></g><g transform="translate(499.4,496.2)"><use href="#WA" fill="#e4c6a2"/><use href="#OR" fill="#e6c49e"/><use href="#CA" fill="#e8c296"/><use href="#NV" fill="#e8c296"/><use href="#ID" fill="#e6c49e"/><use href="#MT" fill="#ffffff"/><use href="#WY" fill="#dfcbb6"/><use href="#UT" fill="#dcd0c4"/><use href="#CO" fill="#e2c8aa"/><use href="#AZ" fill="#eabe8a"/><use href="#NM" fill="#e4c6a4"/><use href="#TX" fill="#e7c296"/><use href="#OK" fill="#ffffff"/><use href="#KS" fill="#ebbd86"/><use href="#NE" fill="#e8c093"/><use href="#SD" fill="#ffffff"/><use href="#ND" fill="#ffffff"/><use href="#MN" fill="#ffffff"/><use href="#IA" fill="#ffffff"/><use href="#MO" fill="#ffffff"/><use href="#AR" fill="#ffffff"/><use href="#LA" fill="#ffffff"/><use href="#MS" fill="#ffffff"/><use href="#AL" fill="#ffffff"/><use href="#TN" fill="#ffffff"/><use href="#KY" fill="#ffffff"/><use href="#IL" fill="#ebbb82"/><use href="#IN" fill="#ffffff"/><use href="#OH" fill="#ffffff"/><use href="#MI" fill="#ffffff"/><use href="#MIU" fill="#ffffff"/><use href="#WI" fill="#ffffff"/><use href="#PA" fill="#ffffff"/><use href="#NY" fill="#f2a648"/><use href="#NJ" fill="#f2a648"/><use href="#DE" fill="#ffffff"/><use href="#MD" fill="#ffffff"/><use href="#VAES" fill="#ffffff"/><use href="#VA" fill="#ffffff"/><use href="#WV" fill="#ffffff"/><use href="#NC" fill="#ffffff"/><use href="#SC" fill="#ffffff"/><use href="#GA" fill="#e9be8a"/><use href="#FL" fill="#e8c192"/><use href="#CT" fill="#eeb36e"/><use href="#RI" fill="#ffffff"/><use href="#MA" fill="#ffffff"/><use href="#VT" fill="#ffffff"/><use href="#NH" fill="#ffffff"/><use href="#ME" fill="#ffffff"/><use href="#dark" fill="#474747" stroke-width="0.6"/></g><g transform="translate(750.1,496.2)"><use href="#WA" fill="#ffffff"/><use href="#OR" fill="#ffffff"/><use href="#CA" fill="#e5c39c"/><use href="#NV" fill="#e5c39c"/><use href="#ID" fill="#ffffff"/><use href="#MT" fill="#ffffff"/><use href="#WY" fill="#ffffff"/><use href="#UT" fill="#ffffff"/><use href="#CO" fill="#e3c6a3"/><use href="#AZ" fill="#e6c196"/><use href="#NM" fill="#e3c6a2"/><use href="#TX" fill="#e6c196"/><use href="#OK" fill="#ffffff"/><use href="#KS" fill="#ffffff"/><use href="#NE" fill="#ffffff"/><use href="#SD" fill="#ffffff"/><use href="#ND" fill="#ffffff"/><use href="#MN" fill="#ffffff"/><use href="#IA" fill="#ffffff"/><use href="#MO" fill="#ffffff"/><use href="#AR" fill="#ffffff"/><use href="#LA" fill="#ffffff"/><use href="#MS" fill="#ffffff"/><use href="#AL" fill="#ffffff"/><use href="#TN" fill="#ffffff"/><use href="#KY" fill="#ffffff"/><use href="#IL" fill="#e8c193"/><use href="#IN" fill="#ffffff"/><use href="#OH" fill="#ffffff"/><use href="#MI" fill="#ffffff"/><use href="#MIU" fill="#ffffff"/><use href="#WI" fill="#ffffff"/><use href="#PA" fill="#ffffff"/><use href="#NY" fill="#f2a84e"/><use href="#NJ" fill="#f2a84e"/><use href="#DE" fill="#ffffff"/><use href="#MD" fill="#ffffff"/><use href="#VAES" fill="#ffffff"/><use href="#VA" fill="#ffffff"/><use href="#WV" fill="#ffffff"/><use href="#NC" fill="#ffffff"/><use href="#SC" fill="#ffffff"/><use href="#GA" fill="#ffffff"/><use href="#FL" fill="#e8c194"/><use href="#CT" fill="#eeb36e"/><use href="#RI" fill="#ffffff"/><use href="#MA" fill="#ffffff"/><use href="#VT" fill="#ffffff"/><use href="#NH" fill="#ffffff"/><use href="#ME" fill="#ffffff"/><use href="#dark" fill="#474747" stroke-width="0.6"/></g><g transform="translate(999.6,496.2)"><use href="#WA" fill="#ffffff"/><use href="#OR" fill="#ffffff"/><use href="#CA" fill="#e6c49c"/><use href="#NV" fill="#ffffff"/><use href="#ID" fill="#ffffff"/><use href="#MT" fill="#ffffff"/><use href="#WY" fill="#ffffff"/><use href="#UT" fill="#ffffff"/><use href="#CO" fill="#ffffff"/><use href="#AZ" fill="#ffffff"/><use href="#NM" fill="#e6c49c"/><use href="#TX" fill="#ffffff"/><use href="#OK" fill="#ffffff"/><use href="#KS" fill="#ffffff"/><use href="#NE" fill="#ffffff"/><use href="#SD" fill="#ffffff"/><use href="#ND" fill="#ffffff"/><use href="#MN" fill="#ffffff"/><use href="#IA" fill="#ffffff"/><use href="#MO" fill="#ffffff"/><use href="#AR" fill="#ffffff"/><use href="#LA" fill="#ffffff"/><use href="#MS" fill="#ffffff"/><use href="#AL" fill="#ffffff"/><use href="#TN" fill="#ffffff"/><use href="#KY" fill="#ffffff"/><use href="#IL" fill="#ffffff"/><use href="#IN" fill="#ffffff"/><use href="#OH" fill="#ffffff"/><use href="#MI" fill="#ffffff"/><use href="#MIU" fill="#ffffff"/><use href="#WI" fill="#ffffff"/><use href="#PA" fill="#ffffff"/><use href="#NY" fill="#ffffff"/><use href="#NJ" fill="#ffffff"/><use href="#DE" fill="#ffffff"/><use href="#MD" fill="#ffffff"/><use href="#VAES" fill="#ffffff"/><use href="#VA" fill="#ffffff"/><use href="#WV" fill="#ffffff"/><use href="#NC" fill="#ffffff"/><use href="#SC" fill="#ffffff"/><use href="#GA" fill="#ffffff"/><use href="#FL" fill="#e7c295"/><use href="#CT" fill="#ffffff"/><use href="#RI" fill="#ffffff"/><use href="#MA" fill="#ffffff"/><use href="#VT" fill="#ffffff"/><use href="#NH" fill="#ffffff"/><use href="#ME" fill="#ffffff"/><use href="#dark" fill="#474747" stroke-width="0.6"/></g></g></svg>
<div class="t" id="t1">Variable</div><svg style="position:absolute;left:0;top:0" width="1356" height="100"><path d="M850.8,65.9 L860,65.9 L860,23.6 L853.2,23.6 C852.2,28.5 848.5,31 841.2,31.2 L841.2,37.3 L850.8,37.3 Z" fill="#000"/></svg>
<div class="t" id="t2">Variable</div><div class="t" id="t2b">2</div>
</body></html>
